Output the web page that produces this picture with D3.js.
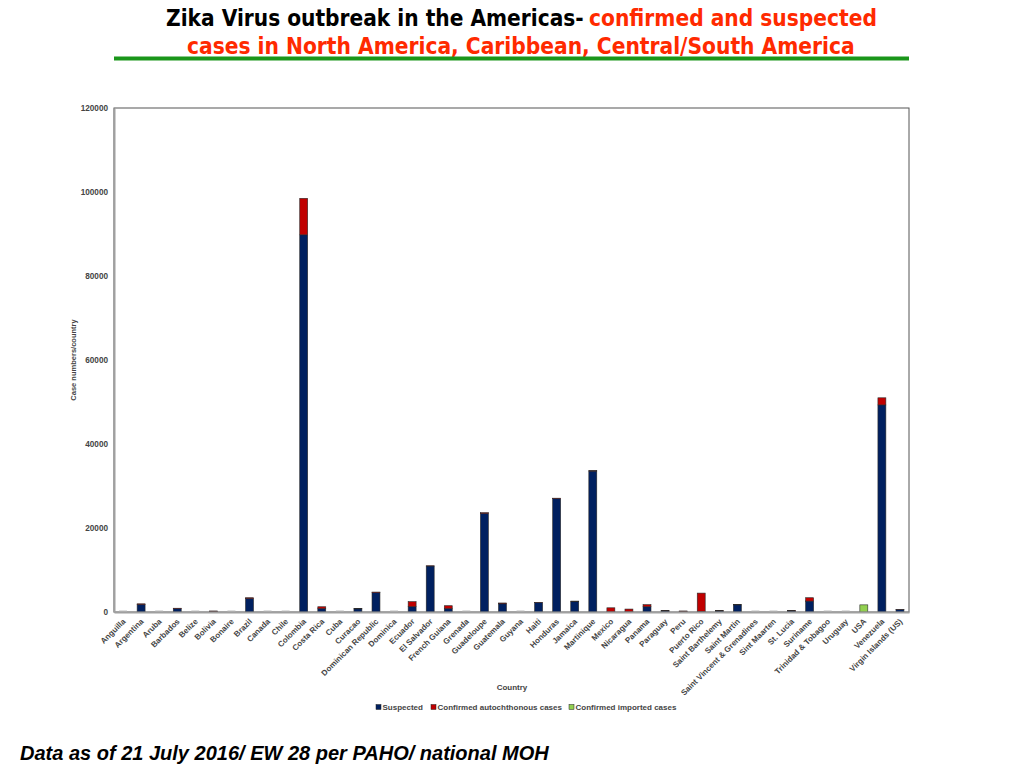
<!DOCTYPE html>
<html>
<head>
<meta charset="utf-8">
<script src="https://cdn.jsdelivr.net/npm/d3@7"></script>
<style>
  html, body { margin: 0; padding: 0; background: #fff; }
  svg { display: block; }
</style>
</head>
<body>
<svg id="chart" width="1024" height="768"></svg>
<script>
// ── Data (21 July 2016) ──
const countries = [
  'Anguilla', 'Argentina', 'Aruba', 'Barbados', 'Belize', 'Bolivia', 'Bonaire',
  'Brazil', 'Canada', 'Chile', 'Colombia', 'Costa Rica', 'Cuba', 'Curacao',
  'Dominican Republic', 'Dominica', 'Ecuador', 'El Salvador', 'French Guiana',
  'Grenada', 'Guadeloupe', 'Guatemala', 'Guyana', 'Haiti', 'Honduras', 'Jamaica',
  'Martinique', 'Mexico', 'Nicaragua', 'Panama', 'Paraguay', 'Peru', 'Puerto Rico',
  'Saint Barthelemy', 'Saint Martin', 'Saint Vincent & Grenadines', 'Sint Maarten',
  'St. Lucia', 'Suriname', 'Trinidad & Tobagoo', 'Uruguay', 'USA', 'Venezuela',
  'Virgin Islands (US)'
];

const suspected = [
  0, 1800, 0, 800, 0, 150, 0,
  3200, 0, 0, 89800, 800, 0, 750,
  4600, 0, 1260, 10950, 800,
  0, 23450, 1950, 0, 2250, 27000, 2450,
  33550, 50, 50, 1250, 250, 150, 150,
  250, 1700, 0, 0,
  250, 2600, 0, 0, 0, 49300,
  600
];

const confirmedAuto = [
  0, 150, 0, 100, 0, 100, 0,
  200, 0, 0, 8700, 450, 0, 100,
  150, 0, 1200, 50, 700,
  0, 200, 200, 0, 50, 100, 150,
  100, 950, 650, 500, 150, 100, 4350,
  150, 50, 0, 0,
  150, 800, 0, 0, 0, 1700,
  30
];

const confirmedImported = [
  0, 0, 0, 0, 0, 0, 0,
  0, 0, 0, 0, 0, 0, 0,
  0, 0, 0, 0, 0,
  0, 0, 0, 0, 0, 0, 0,
  0, 0, 0, 0, 0, 0, 0,
  0, 0, 0, 0,
  0, 0, 0, 0, 1700, 0,
  0
];

const seriesNames = ['Suspected', 'Confirmed autochthonous  cases', 'Confirmed imported cases'];
const seriesColors = ['#002060', '#c00000', '#92d050'];
const yTicks = [0, 20000, 40000, 60000, 80000, 100000, 120000];

// ── Layout ──
const svg = d3.select('#chart');
const M = { left: 114, right: 909, top: 108, bottom: 612 };
const keys = ['s', 'c', 'i'];

const rows = countries.map((name, i) => ({
  name, s: suspected[i], c: confirmedAuto[i], i: confirmedImported[i]
}));

const x = d3.scaleBand().domain(countries).range([M.left, M.right]).paddingInner(0.56).paddingOuter(0.28);
const y = d3.scaleLinear().domain([0, 120000]).range([M.bottom, M.top]);

const stacked = d3.stack().keys(keys)(rows);

// Title — the slide uses a condensed bold face; squeeze each piece horizontally
const title = svg.append('g')
  .attr('font-family', '"Liberation Sans Narrow", "DejaVu Sans Condensed", "Liberation Sans", sans-serif')
  .attr('font-weight', 'bold')
  .attr('font-size', 23)
  .attr('text-anchor', 'start');

function squeezed(str, x0, y0, width, color) {
  const t = title.append('text').attr('fill', color).text(str);
  const w = t.node().getComputedTextLength();
  t.attr('transform', `translate(${x0},${y0}) scale(${width / w},1)`);
  return t;
}
squeezed('Zika Virus outbreak in the Americas-', 166, 26, 418, '#000');
squeezed('confirmed and suspected', 589, 26, 288, '#ff2a00');
squeezed('cases in North America, Caribbean, Central/South America', 187, 54, 668, '#ff2a00');

svg.append('line')
  .attr('x1', 114).attr('x2', 909).attr('y1', 58.5).attr('y2', 58.5)
  .attr('stroke', '#1a961a').attr('stroke-width', 4);

// Plot frame
svg.append('rect')
  .attr('x', M.left).attr('y', M.top)
  .attr('width', M.right - M.left).attr('height', M.bottom - M.top)
  .attr('fill', 'none').attr('stroke', '#555').attr('stroke-width', 1);

// Bars
const barsG = svg.append('g');
stacked.forEach((layer, k) => {
  barsG.selectAll(null)
    .data(layer.filter(d => d[1] > d[0]))
    .join('rect')
    .attr('x', d => x(d.data.name))
    .attr('width', x.bandwidth())
    .attr('y', d => y(d[1]))
    .attr('height', d => y(d[0]) - y(d[1]))
    .attr('fill', seriesColors[k])
    .attr('stroke', '#2a2a2a')
    .attr('stroke-width', 0.6);
});

// zero-value stubs (drawn like the empty bar outlines of the original)
barsG.selectAll('.stub')
  .data(rows.filter(d => d.s + d.c + d.i === 0))
  .join('rect')
  .attr('class', 'stub')
  .attr('x', d => x(d.name))
  .attr('width', x.bandwidth())
  .attr('y', y(0) - 1.5)
  .attr('height', 1.5)
  .attr('fill', '#bdbdbd');

// Axes
const axisFont = 'Liberation Sans, Arial, sans-serif';

const yAxis = svg.append('g')
  .attr('transform', `translate(${M.left},0)`)
  .call(d3.axisLeft(y).tickValues(yTicks).tickSize(0).tickPadding(6).tickFormat(d3.format('d')));
yAxis.select('.domain').attr('stroke', '#a0a0a0').attr('stroke-width', 2);
yAxis.selectAll('text')
  .attr('font-family', axisFont).attr('font-weight', 'bold')
  .attr('font-size', 8.2).attr('fill', '#444');

const xAxis = svg.append('g')
  .attr('transform', `translate(0,${M.bottom})`)
  .call(d3.axisBottom(x).tickSize(0).tickPadding(0));
xAxis.select('.domain').attr('stroke', '#a0a0a0').attr('stroke-width', 2);
xAxis.selectAll('text')
  .attr('font-family', axisFont).attr('font-weight', 'bold')
  .attr('font-size', 8).attr('fill', '#444')
  .attr('text-anchor', 'end')
  .attr('dy', null)
  .attr('transform', 'translate(3,10) rotate(-45)');

// Axis titles
svg.append('text')
  .attr('transform', 'translate(76,360) rotate(-90)')
  .attr('text-anchor', 'middle')
  .attr('font-family', axisFont).attr('font-weight', 'bold')
  .attr('font-size', 7.5).attr('fill', '#444')
  .text('Case numbers/country');

svg.append('text')
  .attr('x', 512).attr('y', 690)
  .attr('text-anchor', 'middle')
  .attr('font-family', axisFont).attr('font-weight', 'bold')
  .attr('font-size', 8).attr('fill', '#444')
  .text('Country');

// Legend
const legendX = [376, 431, 569];
const legend = svg.append('g').attr('font-family', axisFont).attr('font-weight', 'bold')
  .attr('font-size', 8).attr('fill', '#444');
seriesNames.forEach((name, k) => {
  const g = legend.append('g').attr('transform', `translate(${legendX[k]},707)`);
  g.append('rect').attr('x', 0).attr('y', -2.5).attr('width', 5).attr('height', 5)
    .attr('fill', seriesColors[k]).attr('stroke', '#222').attr('stroke-width', 0.5);
  g.append('text').attr('x', 6.5).attr('y', 2.9).text(name);
});

// Footer note
svg.append('text')
  .attr('x', 20).attr('y', 760)
  .attr('font-family', 'Liberation Sans, Arial, sans-serif')
  .attr('font-weight', 'bold').attr('font-style', 'italic')
  .attr('font-size', 20).attr('fill', '#000')
  .text('Data as of 21 July 2016/ EW 28 per PAHO/ national MOH');
</script>
</body>
</html>
